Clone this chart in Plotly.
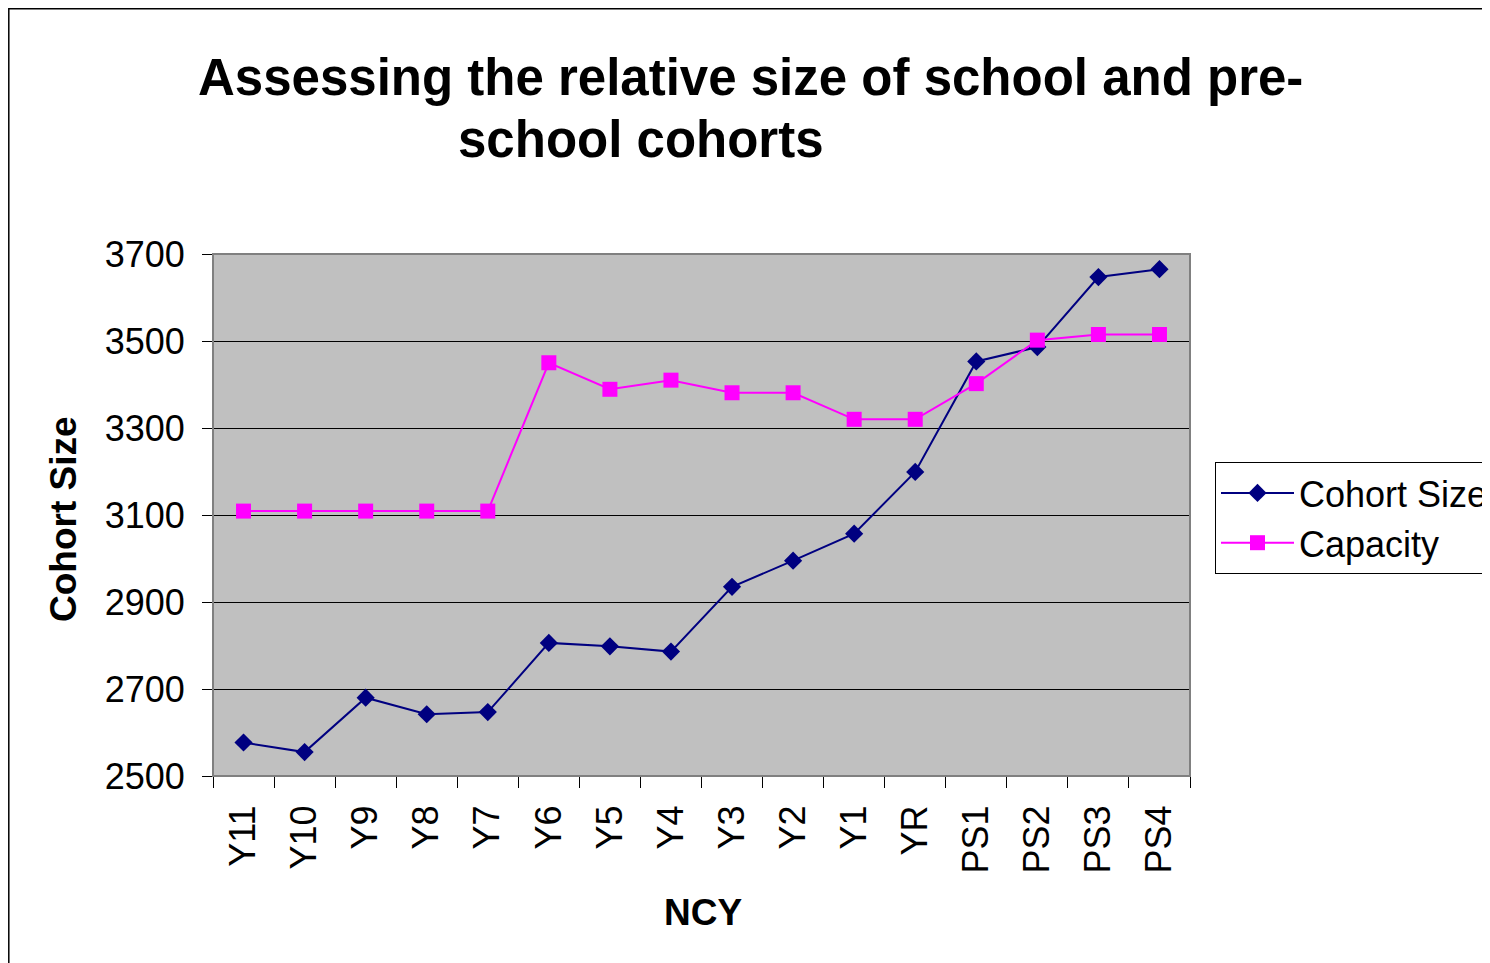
import plotly.graph_objects as go

categories = ["Y11", "Y10", "Y9", "Y8", "Y7", "Y6", "Y5", "Y4", "Y3", "Y2", "Y1", "YR",
              "PS1", "PS2", "PS3", "PS4"]
cohort_size = [2577, 2555, 2680, 2642, 2647, 2806, 2798, 2786, 2935, 2995, 3057, 3199,
               3453, 3486, 3647, 3665]
capacity = [3109, 3109, 3109, 3109, 3109, 3450, 3389, 3410, 3381, 3381, 3320, 3320,
            3402, 3502, 3515, 3515]
y_ticks = [2500, 2700, 2900, 3100, 3300, 3500, 3700]

FONT = "Liberation Sans, Arial, sans-serif"

# page body has an 8px margin; targets below are screenshot pixels
OFF = 8
W, H = 1490, 963
L, R, T, B = 213 - OFF, 1190 - OFF, 254 - OFF, 776 - OFF
pw, ph = R - L, B - T

def px(xp):
    return (xp - OFF - L) / pw

def py(yp):
    return (B - (yp - OFF)) / ph

fig = go.Figure()
fig.add_trace(go.Scatter(
    x=categories, y=cohort_size, name="Cohort Size", mode="lines+markers",
    line=dict(color="#000080", width=2),
    marker=dict(symbol="diamond", size=14, color="#000080"),
))
fig.add_trace(go.Scatter(
    x=categories, y=capacity, name="Capacity", mode="lines+markers",
    line=dict(color="#FF00FF", width=2),
    marker=dict(symbol="square", size=15, color="#FF00FF"),
))

fig.update_layout(
    width=W, height=H,
    margin=dict(l=L, r=W - R, t=T, b=H - B, autoexpand=False),
    paper_bgcolor="white",
    plot_bgcolor="#C0C0C0",
    font=dict(family=FONT, color="black", size=36),
    showlegend=True,
    legend=dict(
        x=px(1215), y=py(462), xref="paper", yref="paper",
        xanchor="left", yanchor="top",
        bgcolor="white", bordercolor="black", borderwidth=1,
        font=dict(family=FONT, size=36, color="black"),
        itemwidth=73, tracegroupgap=0,
    ),
    xaxis=dict(
        type="category", categoryorder="array", categoryarray=categories,
        range=[-0.5, len(categories) - 0.5],
        tickangle=-90, ticks="outside", ticklen=11, tickcolor="black",
        tickson="boundaries", ticklabelstandoff=14,
        showline=True, linecolor="black", linewidth=1, mirror=False,
        showgrid=False, zeroline=False,
        tickfont=dict(family=FONT, size=36, color="black"),
    ),
    yaxis=dict(
        range=[2500, 3700], tickvals=y_ticks, ticktext=[str(v) for v in y_ticks],
        ticks="outside", ticklen=10, tickcolor="black", ticklabelstandoff=10,
        showline=True, linecolor="black", linewidth=1,
        showgrid=True, gridcolor="black", gridwidth=1, zeroline=False,
        tickfont=dict(family=FONT, size=36, color="black"),
    ),
)

# plot area frame (gray on top/right)
fig.add_shape(type="rect", xref="paper", yref="paper", x0=0, y0=0, x1=1, y1=1,
              line=dict(color="#808080", width=2), layer="above")
# outer chart border
fig.add_shape(type="rect", xref="paper", yref="paper",
              x0=px(8.8), y0=py(1000), x1=px(1520), y1=py(8.8),
              line=dict(color="black", width=1.5), layer="above")

fig.add_annotation(text="<b>Assessing the relative size of school and pre-</b>",
                   xref="paper", yref="paper", x=px(750), y=py(77),
                   xanchor="center", yanchor="middle", showarrow=False,
                   font=dict(family=FONT, size=51, color="black"))
fig.add_annotation(text="<b>school cohorts</b>",
                   xref="paper", yref="paper", x=px(641), y=py(140),
                   xanchor="center", yanchor="middle", showarrow=False,
                   font=dict(family=FONT, size=51, color="black"))
fig.add_annotation(text="<b>Cohort Size</b>", textangle=-90,
                   xref="paper", yref="paper", x=px(63), y=py(519),
                   xanchor="center", yanchor="middle", showarrow=False,
                   font=dict(family=FONT, size=37, color="black"))
fig.add_annotation(text="<b>NCY</b>",
                   xref="paper", yref="paper", x=px(703), y=py(912),
                   xanchor="center", yanchor="middle", showarrow=False,
                   font=dict(family=FONT, size=37, color="black"))

fig.write_html("out.html")
